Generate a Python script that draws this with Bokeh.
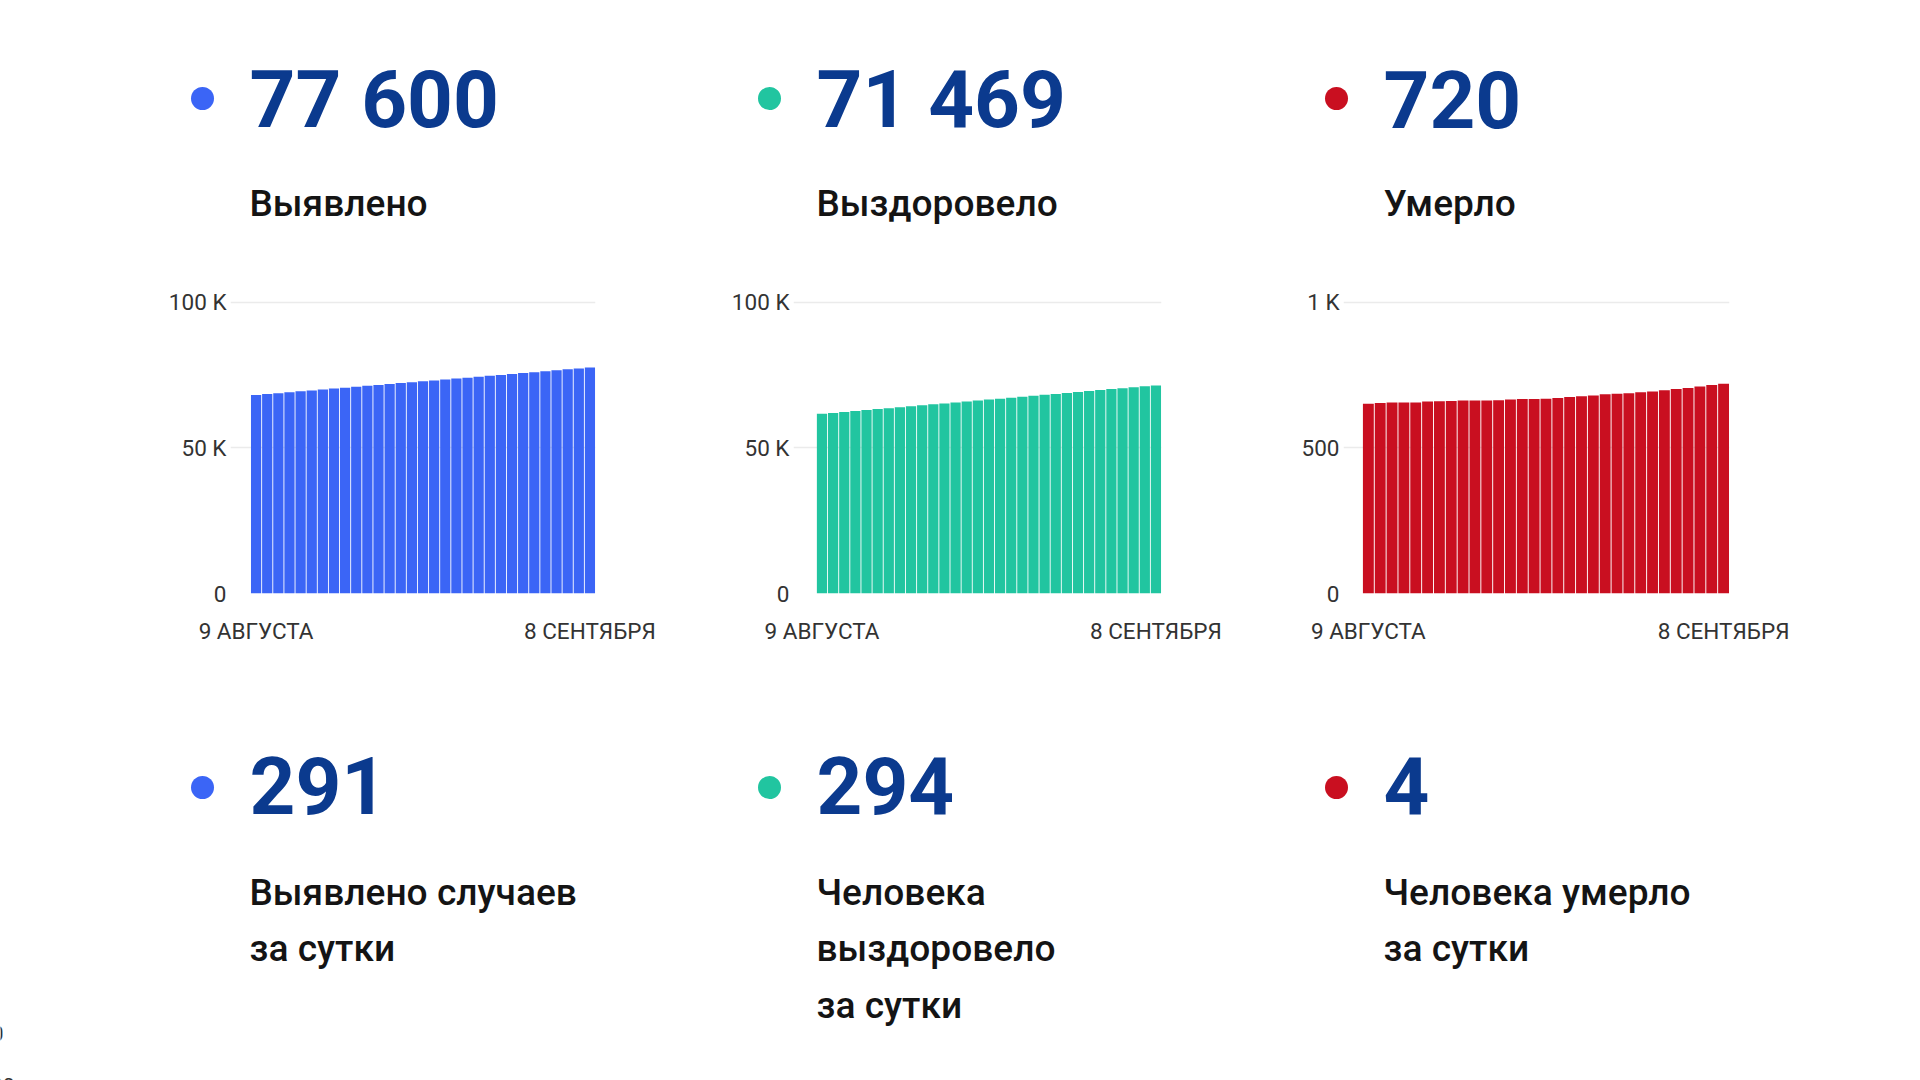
from bokeh.plotting import figure
from bokeh.models import Range1d, FixedTicker, Spacer
from bokeh.layouts import column, row
from bokeh.embed import file_html
from bokeh.resources import INLINE
from bokeh.core.properties import value

# ---------------- data ----------------
date_labels = ["9 АВГУСТА", "8 СЕНТЯБРЯ"]   # 9 Aug .. 8 Sep, 31 days

detected = [68200, 68505, 68812, 69130, 69441, 69752, 70070, 70381, 70690, 71004,
            71318, 71627, 71940, 72258, 72570, 72881, 73190, 73502, 73818, 74130,
            74441, 74753, 75068, 75380, 75691, 76004, 76318, 76640, 76985, 77309,
            77600]
recovered = [61700, 62020, 62345, 62670, 62998, 63325, 63650, 63978, 64305, 64630,
             64958, 65285, 65612, 65940, 66265, 66592, 66920, 67248, 67575, 67902,
             68230, 68555, 68882, 69210, 69538, 69865, 70192, 70520, 70848, 71175,
             71469]
deaths = [652, 654, 656, 656, 656, 659, 660, 661, 663, 663,
          663, 664, 666, 668, 668, 669, 671, 675, 677, 680,
          684, 686, 688, 691, 694, 698, 702, 706, 711, 716,
          720]

totals = [77600, 71469, 720]
total_names = ["Выявлено", "Выздоровело", "Умерло"]
daily = [291, 294, 4]
daily_names = [["Выявлено случаев", "за сутки"],
               ["Человека", "выздоровело", "за сутки"],
               ["Человека умерло", "за сутки"]]

y_ticks_k = [0, 50000, 100000]
y_labels_k = ["0", "50 K", "100 K"]
y_ticks_d = [0, 500, 1000]
y_labels_d = ["0", "500", "1 K"]

# ---------------- style ----------------
series_colors = ["#3b65f6", "#21c5a0", "#c90f20"]
num_color = "#0b3a8e"
txt_color = "#141414"
tick_color = "#333333"
col_x = [202, 769, 1336]
text_x = [249, 816, 1383]


def fmt(v):
    return f"{v:,}".replace(",", " ")


def make_chart(values, yticks, ylabels, color, width, bl, br, x_start):
    days = list(range(len(values)))
    p = figure(width=width, height=390, output_backend="svg", toolbar_location=None,
               x_range=Range1d(x_start, len(values) - 0.5),
               y_range=Range1d(0, yticks[-1] * 1.02),
               min_border_left=bl, min_border_right=br,
               min_border_top=26, min_border_bottom=67,
               outline_line_color=None, background_fill_color="white",
               border_fill_color="white")
    p.vbar(x=days, top=values, width=0.92, fill_color=color, line_color=None)
    p.xgrid.visible = False
    p.ygrid.ticker = FixedTicker(ticks=yticks)
    p.ygrid.grid_line_color = "#ebebeb"
    p.ygrid.grid_line_width = 1.5
    p.yaxis.ticker = FixedTicker(ticks=yticks)
    p.yaxis.major_label_overrides = {t: l for t, l in zip(yticks, ylabels)}
    p.xaxis.ticker = FixedTicker(ticks=[days[0], days[-1]])
    p.xaxis.major_label_overrides = {days[0]: date_labels[0], days[-1]: date_labels[1]}
    for ax in (p.xaxis[0], p.yaxis[0]):
        ax.axis_line_color = None
        ax.major_tick_line_color = None
        ax.minor_tick_line_color = None
        ax.major_tick_out = 0
        ax.major_tick_in = 0
        ax.minor_tick_out = 0
        ax.minor_tick_in = 0
        ax.major_label_text_font = "Roboto"
        ax.major_label_text_font_size = "22.5px"
        ax.major_label_text_color = tick_color
    p.yaxis.major_label_standoff = 4
    p.xaxis.major_label_standoff = 24
    return p


c1 = make_chart(detected, y_ticks_k, y_labels_k, series_colors[0], 590, 130, 95, -2.3)
c2 = make_chart(recovered, y_ticks_k, y_labels_k, series_colors[1], 560, 103, 89, -2.56)
c3 = make_chart(deaths, y_ticks_d, y_labels_d, series_colors[2], 570, 93, 91, -2.1)


def text_fig(height, y0):
    p = figure(width=1920, height=height, output_backend="svg", toolbar_location=None,
               x_range=Range1d(0, 1920), y_range=Range1d(y0 + height, y0),
               x_axis_type=None, y_axis_type=None, min_border=0,
               outline_line_color=None, background_fill_color="white",
               border_fill_color="white")
    return p


top = text_fig(270, 0)
top.scatter(x=col_x, y=[98] * 3, size=23, fill_color=series_colors, line_color=None)
top.text(x=text_x, y=[99] * 3, text=[fmt(v) for v in totals],
         text_font=value("Roboto"), text_font_style="bold", text_font_size="80px",
         text_color=num_color, text_baseline="alphabetic", text_align="left")
top.text(x=text_x, y=[202.5] * 3, text=total_names,
         text_font=value("Roboto Medium"), text_font_size="37px",
         text_color=txt_color, text_baseline="alphabetic", text_align="left")

bottom = text_fig(420, 660)
bottom.scatter(x=col_x, y=[787] * 3, size=23, fill_color=series_colors, line_color=None)
bottom.text(x=text_x, y=[785] * 3, text=[fmt(v) for v in daily],
            text_font=value("Roboto"), text_font_style="bold", text_font_size="80px",
            text_color=num_color, text_baseline="alphabetic", text_align="left")
lx, ly, lt = [], [], []
for i, lines in enumerate(daily_names):
    for j, line in enumerate(lines):
        lx.append(text_x[i])
        ly.append(891.5 + 56.5 * j)
        lt.append(line)
bottom.text(x=lx, y=ly, text=lt, text_font=value("Roboto Medium"), text_font_size="37px",
            text_color=txt_color, text_baseline="alphabetic", text_align="left")
# cropped fragment of a neighbouring chart at the bottom-left edge
bottom.text(x=[3, 14], y=[1033, 1085], text=["0", "00"], text_font=value("Roboto"),
            text_font_size="21px", text_color=tick_color, text_baseline="middle",
            text_align="right")

layout = column(top,
                row(Spacer(width=100, height=390), c1, c2, c3, Spacer(width=100, height=390)),
                bottom)

open("out.html", "w").write(file_html(layout, INLINE))
